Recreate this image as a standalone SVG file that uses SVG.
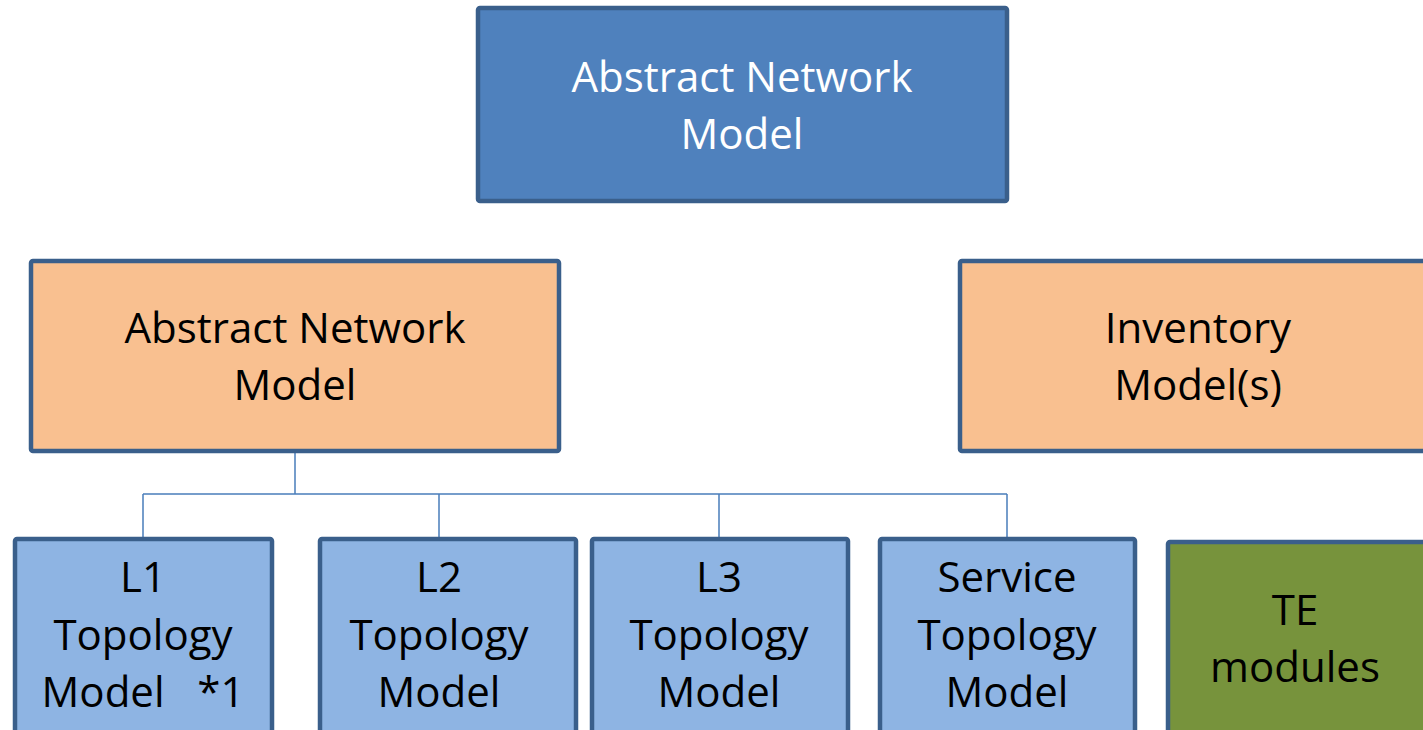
<svg xmlns="http://www.w3.org/2000/svg" width="1423" height="730" viewBox="0 0 1423 730">
<style>
.box{stroke:#3A5F8B;stroke-width:4.5}
.blue{fill:#4F81BD}
.orange{fill:#F9C090}
.light{fill:#8EB4E3}
.green{fill:#77933C}
text{font-family:"Open Sans","Noto Sans",sans-serif;font-size:42px;text-anchor:middle;fill:#000}
.w{fill:#fff}
.conn{fill:none;stroke:#4A7EBB;stroke-width:1.5}
</style>
<rect width="1423" height="730" fill="#fff"/>
<g id="connectors">
<path class="conn" d="M295,452 V494 M143,494 H1007 M143,494 V537 M439,494 V537 M719,494 V537 M1007,494 V537"/>
</g>
<g id="top">
<rect class="box blue" x="478" y="8" width="529" height="193" rx="2"/>
<text class="w" x="742" y="92">Abstract Network</text>
<text class="w" x="742" y="149">Model</text>
</g>
<g id="anm">
<rect class="box orange" x="31" y="261" width="528" height="190" rx="2"/>
<text x="295" y="343">Abstract Network</text>
<text x="295" y="400">Model</text>
</g>
<g id="inventory">
<rect class="box orange" x="960" y="261" width="470" height="190" rx="2"/>
<text x="1198" y="343">Inventory</text>
<text x="1198" y="400">Model(s)</text>
</g>
<g id="l1">
<rect class="box light" x="15" y="539" width="257" height="200" rx="2"/>
<text x="143" y="592">L1</text>
<text x="143" y="650">Topology</text>
<text x="143" y="707" xml:space="preserve">Model   *1</text>
</g>
<g id="l2">
<rect class="box light" x="320" y="539" width="256" height="200" rx="2"/>
<text x="439" y="592">L2</text>
<text x="439" y="650">Topology</text>
<text x="439" y="707">Model</text>
</g>
<g id="l3">
<rect class="box light" x="592" y="539" width="256" height="200" rx="2"/>
<text x="719" y="592">L3</text>
<text x="719" y="650">Topology</text>
<text x="719" y="707">Model</text>
</g>
<g id="service">
<rect class="box light" x="880" y="539" width="255" height="200" rx="2"/>
<text x="1007" y="592">Service</text>
<text x="1007" y="650">Topology</text>
<text x="1007" y="707">Model</text>
</g>
<g id="te">
<rect class="box green" x="1168" y="542" width="262" height="200" rx="2"/>
<text x="1295" y="625">TE</text>
<text x="1295" y="682">modules</text>
</g>
</svg>
